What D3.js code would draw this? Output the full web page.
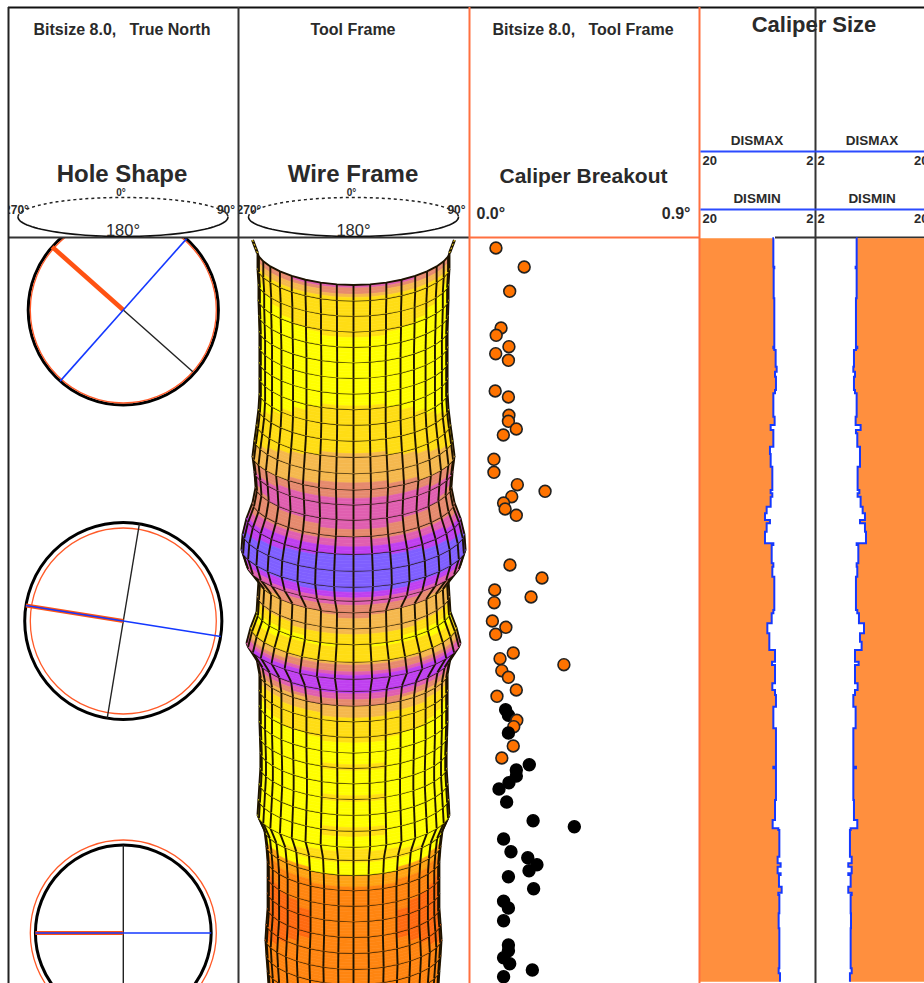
<!DOCTYPE html>
<html><head><meta charset="utf-8">
<script src="https://cdn.jsdelivr.net/npm/d3@7"></script>
<style>
html,body{margin:0;padding:0;background:#fff}
svg{display:block}
text{font-family:"Liberation Sans",Arial,sans-serif;font-weight:bold;fill:#2a2a2a;white-space:pre}
</style></head><body>
<script>
// ---- data ----
const holeDepth   = [72, 383, 695];
const holeOuterIn = [4.09, 4.24, 3.78];
const holeBitIn   = [4.0, 4.0, 4.0];
const holeOrangeAz= [311.6, 279, 270];
const holeBlueAz  = [41.6, 99, 90];
const holeBlackAz = [131.6, 9.4, 0];

// one wire-frame ring per row: radius (in) and colour class
const wireRadius = [4.0,4.0,3.96,3.96,3.94,3.92,3.92,3.92,3.92,3.92,3.96,4.04,4.13,4.21,4.13,4.08,4.21,4.46,4.62,4.67,4.46,3.96,4.0,4.04,4.29,4.46,4.04,3.92,3.92,3.92,3.92,3.9,3.88,3.88,3.92,3.96,4.0,3.71,3.63,3.58,3.58,3.58,3.58,3.63,3.67,3.63,3.58,3.54,3.54];
const wireClass  = [7,4.1,3.9,3.7,3.3,3.2,3.1,3.2,3.6,3.8,4.0,4.6,5,5.8,7.2,6.8,6.3,8.5,9.2,9.2,7.2,5.6,5.3,3.4,4.6,8.3,8,5.4,4.2,3.7,3.2,3.6,3.1,3.6,3.2,3.6,3.4,3.8,2.5,1.3,0.8,0.6,0.6,0.8,1,1.3,1.3,1.4,1.4];
const wirePalette = ["#FF6A10","#FF8510","#FFA414","#FFFF00","#FFDD14","#F5B84E","#E68A6E","#E05FB0","#C040F0","#7F5FFF"];

const breakoutDepth = [10,29,53.3,90,97.3,108.7,115.7,122.3,153,159,177.3,183.3,191,197,221.3,234.3,246.7,253.3,258.7,265,271,277.3,327,340,352,359,364.7,383,389.3,396.3,415,420.7,426.7,432.7,439.3,452,458.3,471.7,477.3,482.3,488.7,495,508,520,526.7,532,538,544.7,551,564,582.7,588.7,601,613.7,619.7,626.7,632.7,638.7,650.7,663.3,670,682.7,707,712.7,719.7,725.7,732,738.7];
const breakoutValue = [.102,.213,.156,.122,.103,.153,.101,.151,.099,.151,.153,.151,.182,.131,.094,.094,.186,.295,.164,.132,.138,.182,.157,.283,.097,.240,.095,.088,.141,.101,.170,.118,.369,.125,.151,.182,.106,.140,.151,.184,.172,.151,.170,.125,.233,.182,.182,.153,.114,.144,.248,.410,.132,.161,.227,.263,.232,.151,.250,.132,.151,.132,.151,.151,.132,.156,.245,.132];
const breakoutBlack = [0,0,0,0,0,0,0,0,0,0,0,0,0,0,0,0,0,0,0,0,0,0,0,0,0,0,0,0,0,0,0,0,0,0,0,0,0,1,1,0,0,1,0,0,1,1,1,1,1,1,1,1,1,1,1,1,1,1,1,1,1,1,1,1,1,1,1,1];

const caliperDepth = [0.3,20.3,28.7,30.3,47,60.3,62,108.7,110.3,112,128.7,133.7,138.7,143.7,152,155.3,178.7,187,192,195.3,208.7,216,228.7,237,252,255.3,258.7,268.7,275.3,282,285.3,293.7,305.3,307,325.3,328.7,338.7,345.3,372,375.3,385.3,395.3,403.7,412,413.7,423.7,427,430.3,445.3,452,457,468.7,490.3,492,528.7,530.3,532,562,582,590.3,592,618.7,625.3,628.7,635.3,637,648.7,654.7,657,675.3,690.3,708.7,730.3,735.3,743.7];
const dismaxValue  = [8.42,8.52,8.52,8.37,8.47,8.47,8.37,8.37,8.52,8.37,8.16,8.0,8.26,8.11,8.11,8.26,8.52,8.32,8.94,8.52,8.52,9.05,8.94,8.68,8.68,8.94,8.68,8.94,9.57,9.83,9.05,9.57,9.83,8.52,8.78,8.52,8.68,8.37,8.37,8.52,8.78,9.46,9.15,9.15,8.26,8.26,8.73,8.26,8.26,8.68,8.26,8.11,8.52,8.11,8.11,8.52,8.11,8.11,8.26,8.63,7.74,7.58,7.85,7.38,7.85,7.38,7.64,7.22,7.74,7.58,7.69,7.58,7.58,7.69,7.48];
const disminValue  = [8.41,8.52,8.52,8.36,8.52,8.52,8.41,8.41,8.62,8.41,8.1,8.0,8.26,8.1,8.1,8.26,8.52,8.36,9.14,8.41,8.62,9.04,9.04,8.67,8.67,8.94,8.67,9.14,9.46,9.82,9.04,9.82,9.98,8.52,8.78,8.52,8.62,8.41,8.41,8.62,8.88,9.67,9.04,9.3,8.26,8.26,8.83,8.26,8.26,8.67,8.26,8.0,8.36,8.0,8.0,8.41,8.0,8.0,8.1,8.62,7.58,7.47,7.74,7.21,7.74,7.21,7.58,7.21,7.74,7.58,7.63,7.58,7.58,7.74,7.47];

const breakoutTicks = [0, 0.9];
const caliperTicks = [20, 2];

// ---- layout ----
const W = 924, H = 983;
const svg = d3.select("body").append("svg").attr("width", W).attr("height", H);
const TOP = 238;
const depthY = d3.scaleLinear([0, 745], [TOP, H]);

const defs = svg.append("defs");
defs.append("clipPath").attr("id","hole").append("rect").attr("x",9).attr("y",TOP).attr("width",229).attr("height",H-TOP);
defs.append("clipPath").attr("id","wire").append("rect").attr("x",239).attr("y",TOP).attr("width",230).attr("height",H-TOP);
defs.append("clipPath").attr("id","h1").append("rect").attr("x",9).attr("y",180).attr("width",229).attr("height",57);
defs.append("clipPath").attr("id","h2").append("rect").attr("x",239).attr("y",180).attr("width",229).attr("height",57);
defs.append("clipPath").attr("id","page").append("rect").attr("x",700).attr("y",0).attr("width",224).attr("height",H);

// ---- Caliper tracks (fill first) ----
const caliper = caliperDepth.map((d,i)=>({d, max:dismaxValue[i], min:disminValue[i]}));
const leftX  = d3.scaleLinear([20, 2], [700, 815]);
const rightX = d3.scaleLinear([2, 20], [815, 930]);
const fillOrange = "#FF8F3E", traceBlue = "#1438FF";
svg.append("line").attr("x1",775).attr("x2",W).attr("y1",237.5).attr("y2",237.5).attr("stroke","#333").attr("stroke-width",2);
svg.append("path").attr("fill",fillOrange)
  .attr("d", d3.area().curve(d3.curveStepAfter).y(d=>depthY(d.d)).x0(700).x1(d=>leftX(d.max))(caliper));
svg.append("path").attr("fill",fillOrange)
  .attr("d", d3.area().curve(d3.curveStepAfter).y(d=>depthY(d.d)).x0(d=>rightX(d.min)).x1(W)(caliper));

// ---- Hole shape ----
const hole = holeDepth.map((d,i)=>({d, outer:holeOuterIn[i], bit:holeBitIn[i], o:holeOrangeAz[i], b:holeBlueAz[i], k:holeBlackAz[i]}));
const holeCx = 123.3;
const holeR = d3.scaleLinear([0, 4], [0, 93]);
const gHole = svg.append("g").attr("clip-path","url(#hole)");
const az = (a, r) => [r*Math.sin(a*Math.PI/180), -r*Math.cos(a*Math.PI/180)];
hole.forEach((h,i)=>{
  const g = gHole.append("g").attr("transform",`translate(${holeCx},${depthY(h.d)})`);
  const R = holeR(h.outer), Rb = holeR(h.bit);
  g.append("circle").attr("r",R).attr("fill","none").attr("stroke","#000").attr("stroke-width",3);
  g.append("circle").attr("r",Rb).attr("fill","none").attr("stroke","#FF5A28").attr("stroke-width",1.3);
  const ln = (a,r,c,w)=>{const [x,y]=az(a,r);g.append("line").attr("x1",0).attr("y1",0).attr("x2",x).attr("y2",y).attr("stroke",c).attr("stroke-width",w);};
  const rk = i===0 ? Rb : R;
  ln(h.k,rk,"#222",1.4); ln(h.k+180,rk,"#222",1.4);
  ln(h.o,R,"#FF5212",i===0?4.6:4);
  ln(h.b,R,traceBlue,1.6); ln(h.b+180,R,traceBlue,1.6);
});

// ---- Wire frame ----
const wireCx = 353.5;
const wireR = d3.scaleLinear([0, 4], [0, 96]);
const ringDepth = d3.scaleLinear([0, wireRadius.length-1], [15, 764]);
const classColor = d3.scaleThreshold([.5,1.5,2.5,3.5,4.5,5.5,6.5,7.5,8.5], wirePalette);
const thetas = d3.range(-90, 91, 10);
const SUB = 5;
const lerp = (arr, t) => { const i=Math.min(Math.floor(t),arr.length-2); return arr[i]+(arr[i+1]-arr[i])*(t-i); };
const wp = (t, th) => {
  const r = wireR(lerp(wireRadius,t)), a = th*Math.PI/180;
  return [wireCx + r*Math.sin(a), depthY(ringDepth(t)) + r/3*Math.pow(Math.max(0,Math.cos(a)),1.25)];
};
const gWire = svg.append("g").attr("clip-path","url(#wire)");
const line = d3.line();
const gridC = "#1c1200", gridW = 1.9;
// lower rows first: an upper flare hangs in front of the row below it
for (let i = wireRadius.length-2; i >= 0; i--) {
  const row = gWire.append("g");
  for (let s = 0; s < SUB; s++) {
    const t0 = i + s/SUB, t1 = i + (s+1)/SUB;
    for (let k = 0; k < thetas.length-1; k++) {
      const a = thetas[k], b = thetas[k+1], mid = (a+b)/2;
      const sn = Math.sin(mid*Math.PI/180);
      const c = classColor(lerp(wireClass,(t0+t1)/2) - 0.5*sn*sn);
      row.append("path").attr("d", line([wp(t0,a),wp(t0,b),wp(t1,b),wp(t1,a)])+"Z")
        .attr("fill",c).attr("stroke",c).attr("stroke-width",0.6);
    }
  }
  thetas.forEach(th=>{
    row.append("path").attr("d",line([wp(i,th),wp(i+1,th)])).attr("fill","none").attr("stroke",gridC).attr("stroke-width",gridW);
  });
  row.append("path").attr("d",line(thetas.map(th=>wp(i,th)))).attr("fill","none").attr("stroke",gridC).attr("stroke-width",gridW);
}
// short stubs of the outermost meridians above the first ring
[-1,1].forEach(sg=>{
  const r0 = wireR(wireRadius[0]);
  const p0 = wp(0, sg*90), x = wireCx + sg*(r0+5);
  gWire.append("path").attr("d",line([[x,depthY(2)],p0])).attr("stroke",gridC).attr("stroke-width",3).attr("fill","none");
  gWire.append("path").attr("d",line([[x,depthY(2)],p0])).attr("stroke","#FFE020").attr("stroke-width",1).attr("stroke-dasharray","2 2").attr("fill","none");
});

// ---- Caliper breakout ----
const breakoutX = d3.scaleLinear([0, 0.9], [470, 699]);
const dots = breakoutDepth.map((d,i)=>({d, v:breakoutValue[i], black:breakoutBlack[i]}));
svg.append("g").selectAll("circle").data(dots).join("circle")
  .attr("cx",d=>breakoutX(d.v)).attr("cy",d=>depthY(d.d)).attr("r",5.9)
  .attr("fill",d=>d.black?"#000":"#FF7300").attr("stroke",d=>d.black?"#000":"#222").attr("stroke-width",1.6);

// ---- traces ----
const gTrace = svg.append("g").attr("clip-path","url(#page)");
gTrace.append("path").attr("fill","none").attr("stroke",traceBlue).attr("stroke-width",2)
  .attr("d", d3.line().curve(d3.curveStepAfter).y(d=>depthY(d.d)).x(d=>leftX(d.max))(caliper));
gTrace.append("path").attr("fill","none").attr("stroke",traceBlue).attr("stroke-width",2)
  .attr("d", d3.line().curve(d3.curveStepAfter).y(d=>depthY(d.d)).x(d=>rightX(d.min))(caliper));

// ---- frame ----
const frame = svg.append("g");
const hl = (x1,x2,y,c,w)=>frame.append("line").attr("x1",x1).attr("x2",x2).attr("y1",y).attr("y2",y).attr("stroke",c).attr("stroke-width",w);
const vl = (x,y1,y2,c,w)=>frame.append("line").attr("x1",x).attr("x2",x).attr("y1",y1).attr("y2",y2).attr("stroke",c).attr("stroke-width",w);
const orangeLine = "#FF7040";
hl(8,W,7.5,"#111",2);
hl(8,469,237.5,"#333",2);
hl(469,700,237.5,orangeLine,2);
vl(8.5,7,H,"#222",2);
vl(238.5,7,H,"#333",2);
vl(469.5,7,H,orangeLine,2);
vl(699.5,7,H,orangeLine,2);
vl(815.5,7,H,"#333",2);

// ---- header ----
const txt = (x,y,s,size,anchor="middle",parent=svg)=>parent.append("text").attr("x",x).attr("y",y).attr("text-anchor",anchor).attr("font-size",size).text(s);
txt(122,35,"Bitsize 8.0,   True North",16);
txt(353,35,"Tool Frame",16);
txt(583,35,"Bitsize 8.0,   Tool Frame",16);
txt(814,32,"Caliper Size",22);
txt(122,182,"Hole Shape",24);
txt(353,182,"Wire Frame",24);
txt(583.5,183,"Caliper Breakout",21);

[[123,"h1"],[353.5,"h2"]].forEach(([cx,clip])=>{
  const g = svg.append("g").attr("clip-path",`url(#${clip})`);
  const rx=105, ry=19.5, cy=217;
  const half = (a0,a1)=>d3.line().x(t=>cx+rx*Math.sin(t)).y(t=>cy-ry*Math.cos(t))(d3.range(a0,a1+.001,(a1-a0)/60));
  g.append("path").attr("d",half(-Math.PI/2,Math.PI/2)).attr("fill","none").attr("stroke","#222").attr("stroke-width",1.5).attr("stroke-dasharray","3 3");
  g.append("path").attr("d",half(Math.PI/2,3*Math.PI/2)).attr("fill","none").attr("stroke","#111").attr("stroke-width",1.6);
  txt(cx-2,196,"0°",10,"middle",g);
  txt(cx<200?16.5:249,214,"270°",12,"middle",g);
  txt(cx+103,214,"90°",12,"middle",g);
  txt(cx,235.5,"180°",16.5,"middle",g).style("font-weight","normal");
});

// ---- axes ----
const styleAxis = g => { g.selectAll("text").attr("font-size",13).attr("font-family",null).style("font-weight","bold"); g.selectAll(".tick line").remove(); };
const gb = svg.append("g").attr("transform","translate(0,200)")
  .call(d3.axisBottom(breakoutX).tickValues(breakoutTicks).tickFormat(d=>d3.format(".1f")(d)+"°").tickSize(0));
gb.select(".domain").remove();
styleAxis(gb);
gb.selectAll("text").attr("fill",null).attr("y",19).attr("font-size",16)
  .attr("text-anchor",d=>d===0?"start":"end").attr("dx",d=>d===0?6:-9).attr("dy",0);

[[leftX,"DISMAX",151],[rightX,"DISMAX",151],[leftX,"DISMIN",209],[rightX,"DISMIN",209]].forEach(([sc,name,y])=>{
  const left = sc===leftX;
  const g = svg.append("g").attr("clip-path","url(#page)");
  const ax = g.append("g").attr("transform",`translate(0,${y})`)
    .call(d3.axisBottom(sc).tickValues(caliperTicks).tickFormat(d3.format("d")).tickSize(0));
  ax.select(".domain").attr("stroke","#2B4BFF").attr("stroke-width",2);
  styleAxis(ax);
  ax.selectAll("text").attr("fill",null).attr("y",14).attr("dy",0)
    .attr("text-anchor",d=> (left ? d===20 : d===2) ? "start":"end")
    .attr("dx",d=> (left ? d===20 : d===2) ? 2 : -2);
  txt(left?757:872, y-6, name, 13.5);
});
</script>
</body></html>
